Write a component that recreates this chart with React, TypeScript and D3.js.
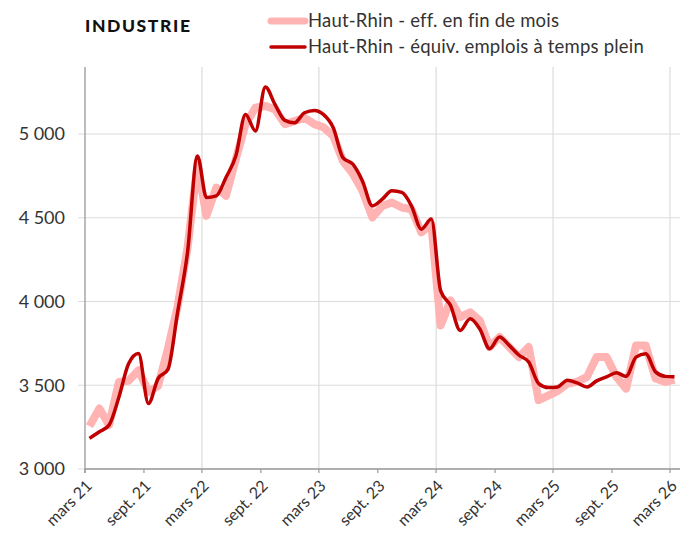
import React from 'react';
import * as d3 from 'd3';

// monthly values, mars 2021 -> mars 2026
const effFinMois = [
  3256, 3361, 3262, 3520, 3526, 3590, 3460, 3495, 3720, 3970,
  4320, 4820, 4512, 4680, 4631, 4851, 5059, 5157, 5167, 5147,
  5059, 5077, 5097, 5059, 5040, 4988, 4839, 4762, 4661, 4502,
  4571, 4591, 4561, 4551, 4413, 4462, 3857, 4006, 3907, 3936,
  3887, 3728, 3788, 3728, 3668, 3728, 3411, 3440, 3465, 3510,
  3520, 3550, 3668, 3668, 3550, 3480, 3738, 3738, 3540, 3520,
  3534,
];
const equivTempsPlein = [
  3183, 3222, 3262, 3430, 3629, 3690, 3391, 3540, 3595, 3935,
  4293, 4869, 4621, 4631, 4740, 4870, 5117, 5018, 5280, 5177,
  5081, 5067, 5127, 5141, 5117, 5037, 4859, 4820, 4720, 4571,
  4611, 4661, 4651, 4571, 4432, 4492, 4065, 3976, 3827, 3897,
  3837, 3718, 3788, 3738, 3679, 3639, 3510, 3486, 3490, 3530,
  3514, 3490, 3526, 3550, 3574, 3553, 3668, 3688, 3580, 3553,
  3550,
];
const dates = effFinMois.map((_, i) => new Date(2021, 2 + i, 15));

const yTicks = [3000, 3500, 4000, 4500, 5000];
const moisCourts = ['janv.', 'févr.', 'mars', 'avr.', 'mai', 'juin', 'juil.', 'août', 'sept.', 'oct.', 'nov.', 'déc.'];

const title = 'INDUSTRIE';
const serieNames = ['Haut-Rhin - eff. en fin de mois', 'Haut-Rhin - équiv. emplois à temps plein'];

const FONT = 'Lato, "Open Sans", sans-serif';
const LIGHT = '#ffb3b3';
const DARK = '#c00000';

export default function App() {
  const width = 680;
  const height = 539;
  const margin = { top: 67, right: 10, bottom: 70, left: 85 };

  const start = new Date(2021, 2, 1);
  const end = new Date(2026, 2, 1);

  const x = d3.scaleTime().domain([start, end]).range([margin.left, width - margin.right]);

  const y = d3
    .scaleLinear()
    .domain([3000, 5400])
    .range([height - margin.bottom, margin.top]);

  // every 6 months starting in march
  const xTicks = d3.timeMonth.range(start, new Date(2026, 2, 2), 6);
  const fmt = (d: Date) => `${moisCourts[d.getMonth()]} ${String(d.getFullYear()).slice(2)}`;
  const yFmt = (v: number) => d3.format(',')(v).replace(',', ' ');

  const lightLine = d3
    .line<number>()
    .x((_, i) => x(dates[i]))
    .y(d => y(d));

  const darkLine = d3
    .line<number>()
    .x((_, i) => x(dates[i]))
    .y(d => y(d))
    .curve(d3.curveMonotoneX);

  const y0 = y(3000);

  return (
    <svg width={width} height={height} style={{ display: 'block', position: 'absolute', left: 0, top: 0 }}>
      <rect width={width} height={height} fill="#fff" />

      {/* horizontal grid */}
      {yTicks.map(t => (
        <g key={t}>
          <line x1={margin.left - 7} x2={width} y1={y(t)} y2={y(t)} stroke="#dcdcdc" strokeWidth={1.2} />
          <text x={65} y={y(t)} dy="0.35em" textAnchor="end" fontFamily={FONT} fontSize={18} fill="#333">
            {yFmt(t)}
          </text>
        </g>
      ))}

      {/* vertical grid (march only) */}
      {xTicks
        .filter(d => d.getMonth() === 2 && d.getFullYear() > 2021)
        .map(d => (
          <line key={+d} x1={x(d)} x2={x(d)} y1={margin.top} y2={y0} stroke="#dcdcdc" strokeWidth={1.2} />
        ))}

      {/* axes */}
      <line x1={margin.left} x2={margin.left} y1={margin.top} y2={y0 + 4} stroke="#9a9a9a" strokeWidth={1.3} />
      <line x1={margin.left} x2={width} y1={y0} y2={y0} stroke="#9a9a9a" strokeWidth={1.3} />
      {xTicks.map(d => (
        <g key={+d}>
          <line x1={x(d)} x2={x(d)} y1={y0} y2={y0 + 4} stroke="#9a9a9a" strokeWidth={1.2} />
          <text
            transform={`translate(${x(d) + 4},${y0 + 14}) rotate(-45)`}
            textAnchor="end"
            dy="0.35em"
            fontFamily={FONT}
            fontSize={16}
            fill="#333"
          >
            {fmt(d)}
          </text>
        </g>
      ))}

      {/* series */}
      <path d={lightLine(effFinMois) ?? ''} fill="none" stroke={LIGHT} strokeWidth={8} strokeLinejoin="round" />
      <path d={darkLine(equivTempsPlein) ?? ''} fill="none" stroke={DARK} strokeWidth={3.5} strokeLinejoin="round" />

      {/* title */}
      <text x={85} y={32} fontFamily={FONT} fontWeight={900} fontSize={17.5} letterSpacing={1.6} fill="#111">
        {title}
      </text>

      {/* legend */}
      <line x1={271} x2={305} y1={21} y2={21} stroke={LIGHT} strokeWidth={7} strokeLinecap="round" />
      <text x={308} y={21} dy="0.35em" fontFamily={FONT} fontSize={18.5} letterSpacing={0.2} fill="#333">
        {serieNames[0]}
      </text>
      <line x1={271} x2={305} y1={47} y2={47} stroke={DARK} strokeWidth={3.5} strokeLinecap="round" />
      <text x={308} y={47} dy="0.35em" fontFamily={FONT} fontSize={18.5} letterSpacing={0.2} fill="#333">
        {serieNames[1]}
      </text>
    </svg>
  );
}
